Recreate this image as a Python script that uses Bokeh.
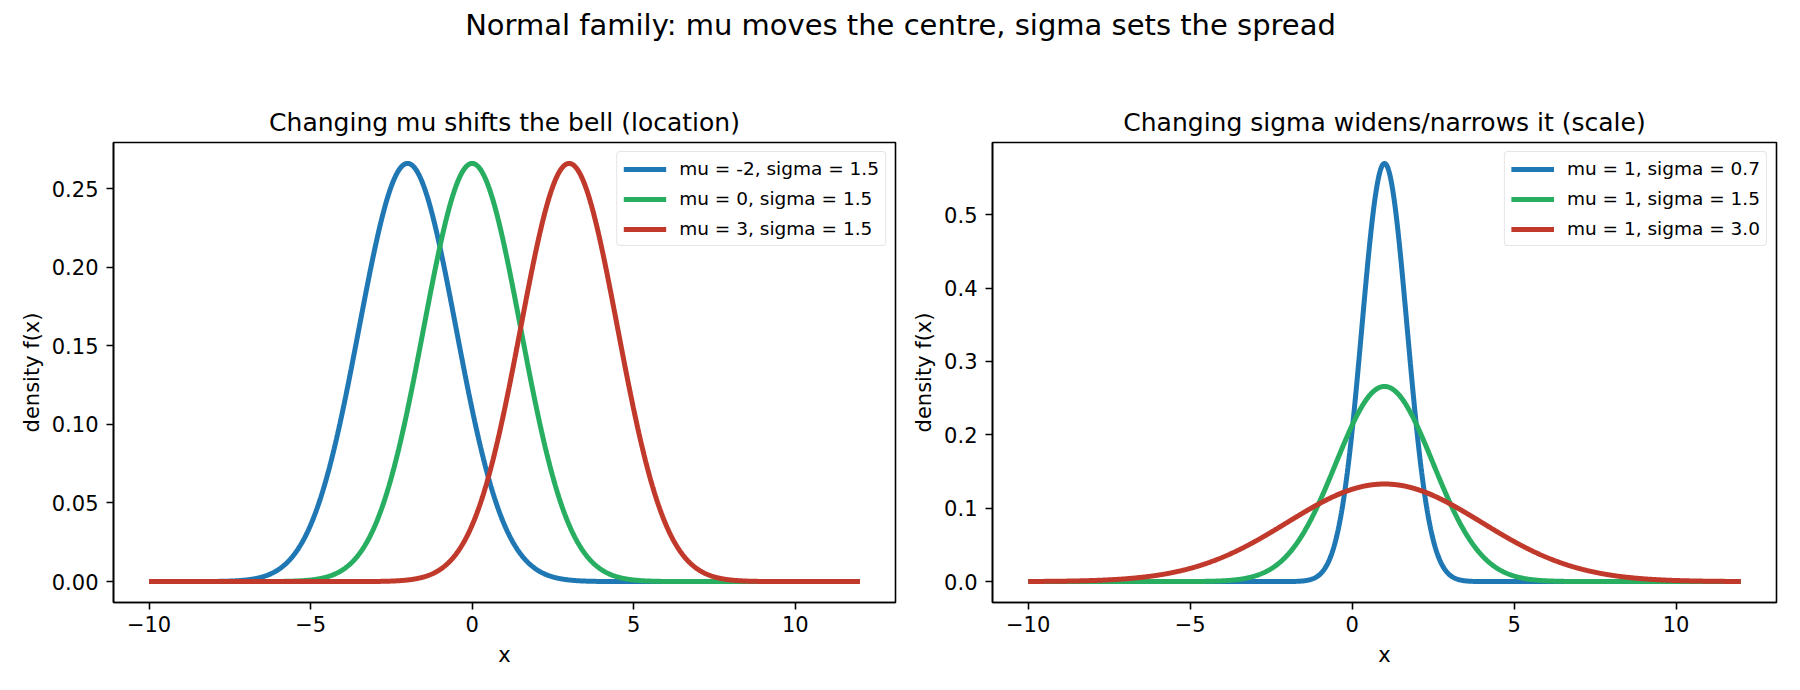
import numpy as np
from bokeh.plotting import figure
from bokeh.layouts import column, row
from bokeh.models import (Legend, LegendItem, NumeralTickFormatter, CustomJSTickFormatter,
                          FixedTicker, Range1d)
from bokeh.core.properties import value
from bokeh.embed import file_html
from bokeh.resources import INLINE

FONT = "DejaVu Sans"

# Panel 1: location changes
loc_mu = [-2, 0, 3]
loc_sigma = [1.5, 1.5, 1.5]
# Panel 2: scale changes
scale_mu = [1, 1, 1]
scale_sigma = [0.7, 1.5, 3.0]

colors = ["#1f77b4", "#27ae60", "#c0392b"]
x_min, x_max = -10, 12
x_ticks = [-10, -5, 0, 5, 10]
left_y_ticks = [0.00, 0.05, 0.10, 0.15, 0.20, 0.25]
right_y_ticks = [0.0, 0.1, 0.2, 0.3, 0.4, 0.5]

xs = np.linspace(x_min, x_max, 1200)


def normal_pdf(x, mu, sigma):
    return np.exp(-0.5 * ((x - mu) / sigma) ** 2) / (sigma * np.sqrt(2 * np.pi))


minus_fmt = CustomJSTickFormatter(
    code="return tick < 0 ? '\u2212' + Math.abs(tick) : tick.toString();")


def panel(title, mus, sigmas, y_ticks, y_fmt, width, border_left, border_right,
          tick_standoff, label_standoff):
    curves = [normal_pdf(xs, m, s) for m, s in zip(mus, sigmas)]
    ymax = max(c.max() for c in curves)
    pad_x = 0.05 * (x_max - x_min)
    p = figure(width=width, height=610,
               min_border_left=border_left, min_border_right=border_right,
               min_border_top=62, min_border_bottom=88,
               x_range=Range1d(x_min - pad_x, x_max + pad_x),
               y_range=Range1d(-0.05 * ymax, 1.05 * ymax),
               output_backend="svg", toolbar_location=None,
               background_fill_color="white", border_fill_color="white")
    p.title.text = title
    p.title.text_font = FONT
    p.title.text_font_size = "25px"
    p.title.text_font_style = "normal"
    p.title.text_color = "black"
    p.title.align = "center"
    p.title.standoff = 11
    p.xgrid.visible = False
    p.ygrid.visible = False
    p.outline_line_color = "black"
    p.outline_line_width = 1.6

    for ax in (p.xaxis[0], p.yaxis[0]):
        ax.axis_line_color = "black"
        ax.axis_line_width = 1.6
        ax.major_tick_line_color = "black"
        ax.major_tick_line_width = 1.6
        ax.major_tick_out = 7
        ax.major_tick_in = 0
        ax.minor_tick_line_color = None
        ax.major_label_text_font = FONT
        ax.major_label_text_font_size = "21px"
        ax.major_label_text_color = "black"
        ax.axis_label_text_font = FONT
        ax.axis_label_text_font_size = "21px"
        ax.axis_label_text_font_style = "normal"
        ax.axis_label_text_color = "black"

    p.xaxis.ticker = FixedTicker(ticks=x_ticks)
    p.xaxis.formatter = minus_fmt
    p.xaxis.axis_label = "x"
    p.xaxis.major_label_standoff = 6
    p.xaxis.axis_label_standoff = 8
    p.yaxis.ticker = FixedTicker(ticks=y_ticks)
    p.yaxis.formatter = NumeralTickFormatter(format=y_fmt)
    p.yaxis.axis_label = "density f(x)"
    p.yaxis.major_label_standoff = tick_standoff
    p.yaxis.axis_label_standoff = label_standoff

    items = []
    for c, m, s, col in zip(curves, mus, sigmas, colors):
        r = p.line(xs, c, line_color=col, line_width=5)
        items.append(LegendItem(label=f"mu = {m}, sigma = {s:.1f}", renderers=[r]))

    legend = Legend(items=items, location="top_right")
    legend.label_text_font = FONT
    legend.label_text_font_size = "18.5px"
    legend.label_text_color = "black"
    legend.glyph_width = 43
    legend.glyph_height = 20
    legend.label_height = 20
    legend.label_standoff = 13
    legend.spacing = 9
    legend.padding = 6
    legend.margin = 9
    legend.border_line_color = "#cccccc"
    legend.border_line_width = 1.6
    legend.background_fill_alpha = 0.8
    legend.border_radius = 4
    p.add_layout(legend)
    return p


p1 = panel("Changing mu shifts the bell (location)", loc_mu, loc_sigma,
           left_y_ticks, "0.00", 909, 113, 14, 8, 5)
p2 = panel("Changing sigma widens/narrows it (scale)", scale_mu, scale_sigma,
           right_y_ticks, "0.0", 891, 80, 24, 8, 5)

# Figure-wide heading
head = figure(width=1800, height=80, x_range=Range1d(0, 1), y_range=Range1d(0, 1),
              output_backend="svg", toolbar_location=None, min_border=0)
head.axis.visible = False
head.grid.visible = False
head.outline_line_color = None
head.text(x=[0.5], y=[0.70], text=["Normal family: mu moves the centre, sigma sets the spread"],
          text_font=value(FONT), text_font_size="29px", text_align="center",
          text_baseline="middle", text_color="black")

layout = column(head, row(p1, p2, spacing=0), spacing=0)
open("out.html", "w").write(file_html(layout, INLINE))
